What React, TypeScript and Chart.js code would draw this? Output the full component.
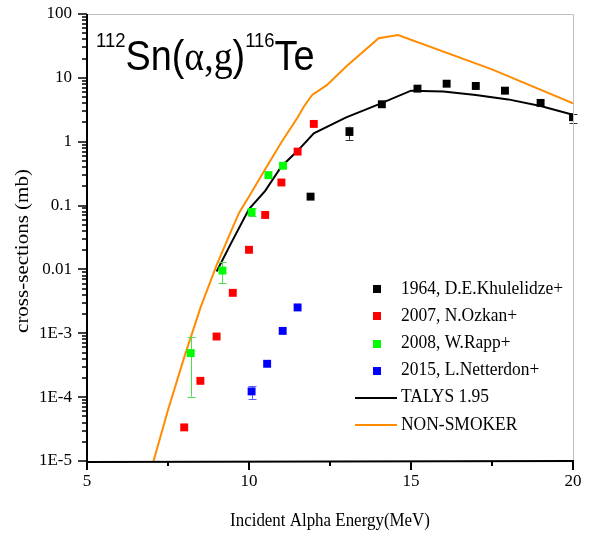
import React, { useEffect, useRef } from 'react';
import { Chart, registerables } from 'chart.js';

Chart.register(...registerables);

// ---------- data ----------
const khuleX = [11.9, 13.1, 14.1, 15.2, 16.1, 17.0, 17.9, 19.0, 20.0];
const khuleY = [0.138, 1.42, 3.86, 6.78, 8.1, 7.46, 6.3, 4.05, 2.42];
const khuleLo = [null, 1.07, null, null, null, null, null, null, 1.95];
const khuleHi = [null, 1.72, null, null, null, null, null, null, 2.7];

const ozkanX = [8.0, 8.5, 9.0, 9.5, 10.0, 10.5, 11.0, 11.5, 12.0];
const ozkanY = [3.36e-5, 1.8e-4, 8.9e-4, 4.3e-3, 0.0203, 0.0713, 0.23, 0.7, 1.9];

const rappX = [8.2, 9.18, 10.08, 10.6, 11.05];
const rappY = [4.9e-4, 9.6e-3, 0.079, 0.3, 0.42];
const rappLo = [1.02e-4, 6.1e-3, 0.068, null, null];
const rappHi = [8.7e-4, 0.0133, 0.09, null, null];

const netterX = [10.08, 10.56, 11.04, 11.5];
const netterY = [1.23e-4, 3.33e-4, 1.09e-3, 2.54e-3];
const netterLo = [9.3e-5, null, null, null];
const netterHi = [1.5e-4, null, null, null];

const talysX = [9, 9.5, 10, 10.5, 11, 11.5, 12, 13, 14, 15, 16, 17, 18, 19, 20];
const talysY = [0.0093, 0.029, 0.088, 0.17, 0.41, 0.72, 1.35, 2.4, 3.85, 6.3, 6.1, 5.4, 4.6, 3.63, 2.63];

const smokerX = [7.0, 7.5, 8.0, 8.5, 9.0, 9.5, 9.7, 10, 10.5, 11, 11.5, 11.7, 11.95, 12.4, 13, 14, 14.6, 17.5, 20];
const smokerY = [8e-6, 6.3e-5, 4.2e-4, 2.5e-3, 0.0117, 0.046, 0.078, 0.139, 0.37, 0.98, 2.4, 3.6, 5.4, 7.7, 15, 41.7, 47, 13.6, 4.0];

const xMajorTicks = [5, 10, 15, 20];
const xMinorTicks = [7.5, 12.5, 17.5];
const yTickValues = [1e-5, 1e-4, 1e-3, 0.01, 0.1, 1, 10, 100];
const yTickLabels = ['1E-5', '1E-4', '1E-3', '0.01', '0.1', '1', '10', '100'];
const yMinorMultipliers = [2, 3, 4, 5, 6, 7, 8, 9];

const legendLabels = ['1964, D.E.Khulelidze+', '2007, N.Ozkan+', '2008, W.Rapp+', '2015, L.Netterdon+', 'TALYS 1.95', 'NON-SMOKER'];
const xTitle = 'Incident Alpha Energy(MeV)';
const yTitle = 'cross-sections (mb)';

const SERIF = "'Liberation Serif', 'Times New Roman', serif";
const SANS = "'Liberation Sans', Arial, sans-serif";

const COLORS = {
  khule: '#000000',
  ozkan: '#ff0000',
  rapp: '#00ff00',
  netter: '#0000ff',
  talys: '#000000',
  smoker: '#ff8c00',
};

const pts = (xs: number[], ys: number[]) => xs.map((x, i) => ({ x, y: ys[i] }));

const errorBarPlugin = {
  id: 'errorBars',
  beforeDatasetDraw(chart: any, args: any) {
    const ds = chart.data.datasets[args.index];
    if (!ds.errLo) return;
    const { ctx } = chart;
    const xs = chart.scales.x;
    const ys = chart.scales.y;
    ctx.save();
    ctx.strokeStyle = ds.errColor;
    ctx.lineWidth = 1;
    ds.data.forEach((p: any, i: number) => {
      const lo = ds.errLo[i];
      const hi = ds.errHi[i];
      if (lo == null || hi == null) return;
      const px = Math.round(xs.getPixelForValue(p.x)) + 0.5;
      const pl = ys.getPixelForValue(lo);
      const ph = ys.getPixelForValue(hi);
      ctx.beginPath();
      ctx.moveTo(px, pl);
      ctx.lineTo(px, ph);
      ctx.moveTo(px - 4, Math.round(pl) + 0.5);
      ctx.lineTo(px + 4, Math.round(pl) + 0.5);
      ctx.moveTo(px - 4, Math.round(ph) + 0.5);
      ctx.lineTo(px + 4, Math.round(ph) + 0.5);
      ctx.stroke();
    });
    ctx.restore();
  },
};

const decorPlugin = {
  id: 'decor',
  afterDraw(chart: any) {
    const { ctx, chartArea: a } = chart;
    const xs = chart.scales.x;
    const ys = chart.scales.y;
    ctx.save();
    // frame (gray top/right)
    ctx.strokeStyle = '#c0c0c0';
    ctx.lineWidth = 1;
    ctx.beginPath();
    ctx.moveTo(a.left, a.top + 0.5);
    ctx.lineTo(a.right + 0.5, a.top + 0.5);
    ctx.lineTo(a.right + 0.5, a.bottom);
    ctx.stroke();

    // black axes
    ctx.strokeStyle = '#000';
    ctx.lineWidth = 2;
    ctx.beginPath();
    ctx.moveTo(a.left, a.top);
    ctx.lineTo(a.left, a.bottom + 1);
    ctx.lineTo(a.right + 1, a.bottom);
    ctx.stroke();

    // y ticks
    ctx.lineWidth = 1.5;
    ctx.beginPath();
    yTickValues.forEach((v, i) => {
      const py = Math.round(ys.getPixelForValue(v));
      ctx.moveTo(a.left - 9, py);
      ctx.lineTo(a.left, py);
      if (i < yTickValues.length - 1) {
        yMinorMultipliers.forEach((m) => {
          const my = Math.round(ys.getPixelForValue(v * m));
          ctx.moveTo(a.left - 5, my);
          ctx.lineTo(a.left, my);
        });
      }
    });
    ctx.stroke();

    // x ticks
    ctx.lineWidth = 2;
    ctx.beginPath();
    xMajorTicks.forEach((v) => {
      const px = Math.round(xs.getPixelForValue(v));
      ctx.moveTo(px, a.bottom);
      ctx.lineTo(px, a.bottom + 9);
    });
    xMinorTicks.forEach((v) => {
      const px = Math.round(xs.getPixelForValue(v));
      ctx.moveTo(px, a.bottom);
      ctx.lineTo(px, a.bottom + 5);
    });
    ctx.stroke();

    // axis titles
    ctx.fillStyle = '#000';
    ctx.textBaseline = 'middle';
    ctx.textAlign = 'center';
    ctx.save();
    ctx.translate((a.left + a.right) / 2, 521);
    ctx.scale(0.94, 1);
    ctx.font = `18px ${SERIF}`;
    ctx.fillText(xTitle, 0, 0);
    ctx.restore();

    ctx.save();
    ctx.translate(23, 251);
    ctx.rotate(-Math.PI / 2);
    ctx.scale(1, 0.92);
    ctx.font = `21px ${SERIF}`;
    ctx.fillText(yTitle, 0, 0);
    ctx.restore();

    // legend
    const dsets = chart.data.datasets;
    const rowY0 = 289.3;
    const step = 27.1;
    legendLabels.forEach((label, i) => {
      const cy = rowY0 + i * step;
      const ds = dsets[i];
      if (i < 4) {
        ctx.fillStyle = ds.backgroundColor;
        ctx.fillRect(373, Math.round(cy) - 4, 8, 8);
      } else {
        ctx.strokeStyle = ds.borderColor;
        ctx.lineWidth = 2;
        ctx.beginPath();
        ctx.moveTo(355, Math.round(cy));
        ctx.lineTo(397, Math.round(cy));
        ctx.stroke();
      }
      ctx.save();
      ctx.translate(401, cy);
      ctx.scale(0.97, 1);
      ctx.fillStyle = '#000';
      ctx.textAlign = 'left';
      ctx.textBaseline = 'middle';
      ctx.font = `18px ${SERIF}`;
      ctx.fillText(label, 0, 0);
      ctx.restore();
    });

    // chart title: 112Sn(α,g)116Te
    ctx.save();
    ctx.translate(96, 0);
    ctx.scale(0.88, 1);
    ctx.fillStyle = '#000';
    ctx.textAlign = 'left';
    ctx.textBaseline = 'alphabetic';
    const segs: [string, string, number][] = [
      ['112', `21px ${SANS}`, 47],
      ['Sn(', `43px ${SANS}`, 70],
      ['\u03b1,g', `43px ${SERIF}`, 70],
      [')', `43px ${SANS}`, 70],
      ['116', `21px ${SANS}`, 47],
      ['Te', `43px ${SANS}`, 70],
    ];
    let x = 0;
    segs.forEach(([t, f, by]) => {
      ctx.font = f;
      ctx.fillText(t, x, by);
      x += ctx.measureText(t).width;
    });
    ctx.restore();

    ctx.restore();
  },
};

export default function App() {
  const ref = useRef<HTMLCanvasElement>(null);

  useEffect(() => {
    if (!ref.current) return;
    const square = (color: string) => ({
      pointStyle: 'rect',
      pointRadius: 5.6,
      pointHoverRadius: 5.6,
      backgroundColor: color,
      borderColor: color,
      borderWidth: 0,
      showLine: false,
    });
    const chart = new Chart(ref.current, {
      type: 'scatter',
      data: {
        datasets: [
          { label: legendLabels[0], data: pts(khuleX, khuleY), ...square(COLORS.khule), errLo: khuleLo, errHi: khuleHi, errColor: '#333333' } as any,
          { label: legendLabels[1], data: pts(ozkanX, ozkanY), ...square(COLORS.ozkan) } as any,
          { label: legendLabels[2], data: pts(rappX, rappY), ...square(COLORS.rapp), errLo: rappLo, errHi: rappHi, errColor: '#4ddf4d' } as any,
          { label: legendLabels[3], data: pts(netterX, netterY), ...square(COLORS.netter), errLo: netterLo, errHi: netterHi, errColor: '#5a5aff' } as any,
          {
            label: legendLabels[4],
            data: pts(talysX, talysY),
            showLine: true,
            pointRadius: 0,
            borderColor: COLORS.talys,
            backgroundColor: COLORS.talys,
            borderWidth: 2,
            tension: 0,
            fill: false,
          } as any,
          {
            label: legendLabels[5],
            data: pts(smokerX, smokerY),
            showLine: true,
            pointRadius: 0,
            borderColor: COLORS.smoker,
            backgroundColor: COLORS.smoker,
            borderWidth: 2,
            tension: 0,
            fill: false,
          } as any,
        ],
      },
      options: {
        animation: false,
        responsive: false,
        devicePixelRatio: 1,
        layout: { padding: { top: 14, right: 21, left: 0, bottom: 0 } },
        plugins: {
          legend: { display: false },
          tooltip: { enabled: false },
          title: { display: false },
        },
        scales: {
          x: {
            type: 'linear',
            position: 'bottom',
            min: 5,
            max: 20,
            grid: { display: false, drawTicks: false },
            border: { display: false },
            ticks: {
              font: { family: SERIF, size: 17 },
              color: '#000',
              padding: 10,
              maxRotation: 0,
              autoSkip: false,
            },
            afterBuildTicks: (s: any) => {
              s.ticks = xMajorTicks.map((v) => ({ value: v }));
            },
            afterFit: (s: any) => {
              s.height = 75;
              s.paddingLeft = 0;
              s.paddingRight = 0;
            },
          },
          y: {
            type: 'logarithmic',
            position: 'left',
            min: 1e-5,
            max: 100,
            grid: { display: false, drawTicks: false },
            border: { display: false },
            ticks: {
              font: { family: SERIF, size: 17 },
              color: '#000',
              padding: 15,
              autoSkip: false,
              callback: (_v: any, i: number) => yTickLabels[i],
            },
            afterBuildTicks: (s: any) => {
              s.ticks = yTickValues.map((v) => ({ value: v }));
            },
            afterFit: (s: any) => {
              s.width = 87;
              s.paddingTop = 0;
              s.paddingBottom = 0;
            },
          },
        },
      } as any,
      plugins: [errorBarPlugin, decorPlugin],
    });
    return () => chart.destroy();
  }, []);

  return (
    <div style={{ position: 'absolute', left: 0, top: 0, width: 594, height: 536, background: '#fff' }}>
      <canvas ref={ref} width={594} height={536} style={{ display: 'block' }} />
    </div>
  );
}
